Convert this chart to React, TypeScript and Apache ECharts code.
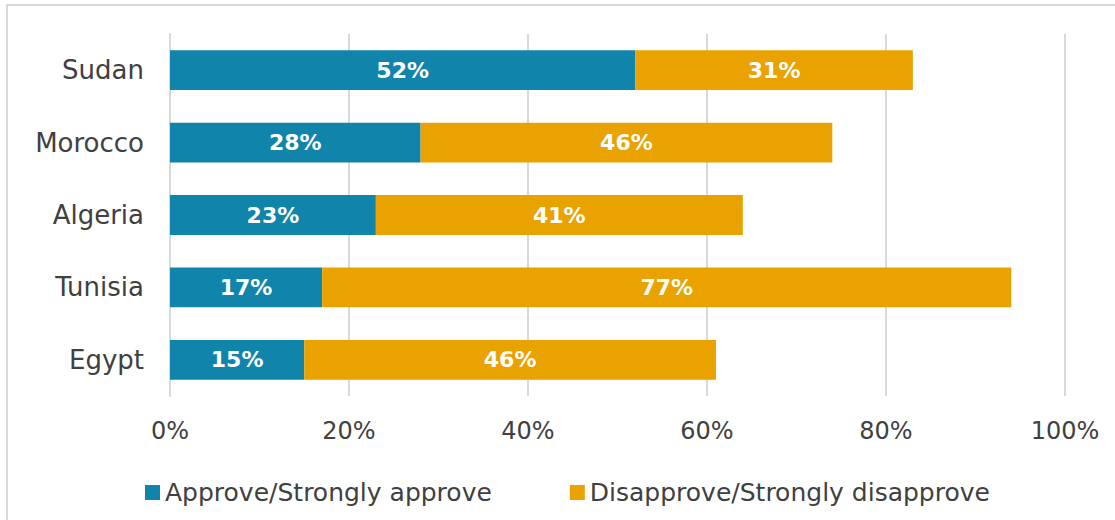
import React, { useEffect, useRef } from "react";
import * as echarts from "echarts";

const categories = ["Sudan", "Morocco", "Algeria", "Tunisia", "Egypt"];
const approve = [52, 28, 23, 17, 15];
const disapprove = [31, 46, 41, 77, 46];
const xTicks = [0, 20, 40, 60, 80, 100];
const seriesNames = ["Approve/Strongly approve", "Disapprove/Strongly disapprove"];

const FONT = "DejaVu Sans";

export default function App() {
  const ref = useRef<HTMLDivElement>(null);
  useEffect(() => {
    if (!ref.current) return;
    const chart = echarts.init(ref.current, undefined, { renderer: "svg" });
    const label = {
      show: true,
      position: "inside",
      formatter: "{c}%",
      color: "#ffffff",
      fontWeight: "bold",
      fontSize: 22,
      fontFamily: FONT,
    };
    chart.setOption({
      animation: false,
      backgroundColor: "#ffffff",
      textStyle: { fontFamily: FONT },
      graphic: [
        {
          type: "rect",
          shape: { x: 7, y: 5, width: 1200, height: 600 },
          style: { fill: "none", stroke: "#d9d9d9", lineWidth: 2 },
          silent: true,
        },
      ],
      grid: { left: 170, right: 50, top: 34, bottom: 124 },
      legend: {
        left: 140,
        top: 475,
        itemWidth: 15,
        itemHeight: 15,
        itemGap: 78,
        icon: "rect",
        textStyle: { fontSize: 25, color: "#404040", fontFamily: FONT },
        data: seriesNames,
      },
      xAxis: {
        type: "value",
        min: xTicks[0],
        max: xTicks[xTicks.length - 1],
        interval: 20,
        axisLine: { show: false },
        axisTick: { show: false },
        splitLine: { show: true, lineStyle: { color: "#d9d9d9", width: 2 } },
        axisLabel: {
          formatter: "{value}%",
          fontSize: 24,
          color: "#404040",
          margin: 23,
          fontFamily: FONT,
        },
      },
      yAxis: {
        type: "category",
        data: categories,
        inverse: true,
        axisLine: { show: true, lineStyle: { color: "#d9d9d9", width: 2 } },
        axisTick: { show: false },
        axisLabel: { fontSize: 26, color: "#404040", margin: 26, fontFamily: FONT },
      },
      series: [
        {
          name: seriesNames[0],
          type: "bar",
          stack: "total",
          data: approve,
          barWidth: "55%",
          itemStyle: { color: "#1184ab" },
          label,
        },
        {
          name: seriesNames[1],
          type: "bar",
          stack: "total",
          data: disapprove,
          barWidth: "55%",
          itemStyle: { color: "#e9a200" },
          label,
        },
      ],
    });
    return () => chart.dispose();
  }, []);
  return (
    <div
      ref={ref}
      style={{ position: "fixed", left: 0, top: 0, width: 1115, height: 520 }}
    />
  );
}
